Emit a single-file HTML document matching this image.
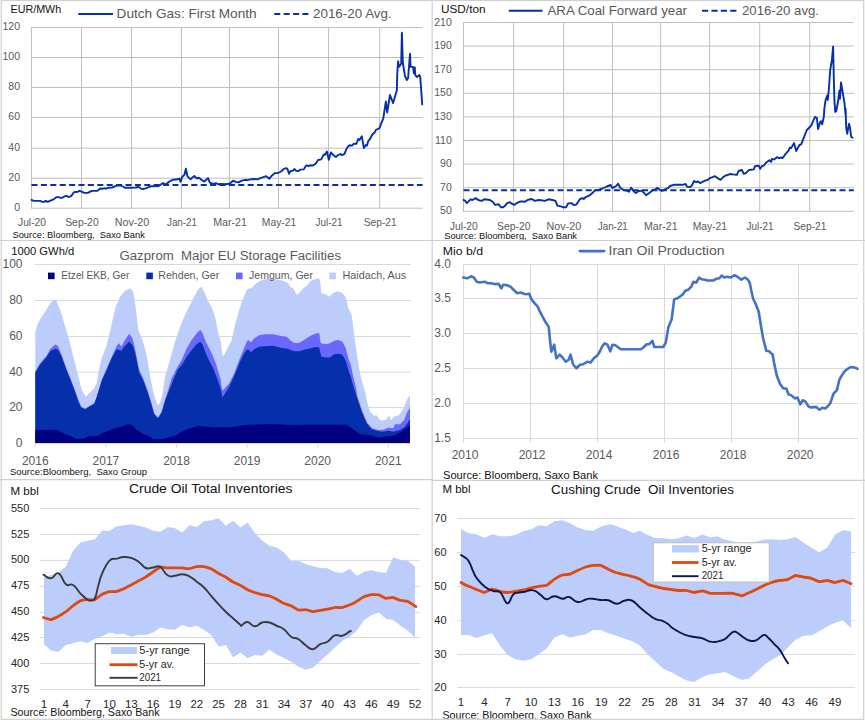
<!DOCTYPE html>
<html><head><meta charset="utf-8"><title>Charts</title>
<style>
html,body{margin:0;padding:0;background:#fff;}
body{width:865px;height:720px;position:relative;overflow:hidden;font-family:"Liberation Sans",sans-serif;}
</style></head><body>
<svg width="865" height="720" viewBox="0 0 865 720" style="position:absolute;left:0;top:0;font-family:'Liberation Sans',sans-serif">
<rect x="0" y="0" width="865" height="720" fill="#fff"/>
<defs><clipPath id="cA"><rect x="0" y="0" width="865" height="240"/></clipPath><clipPath id="cB"><rect x="0" y="0" width="865" height="480"/></clipPath><clipPath id="cC"><rect x="0" y="0" width="865" height="718.6"/></clipPath></defs>
<g stroke="#d0d0d0" stroke-width="1.2" fill="none">
<rect x="1.2" y="0.5" width="862.5" height="718.8"/>
<line x1="432.2" y1="0" x2="432.2" y2="720"/>
<line x1="0" y1="240.5" x2="865" y2="240.5"/>
<line x1="0" y1="479.6" x2="432" y2="479.6"/>
<line x1="432" y1="480.3" x2="865" y2="480.3"/>
</g>
<g stroke="#bfbfbf" stroke-width="1" fill="none">
<line x1="31.5" y1="27.5" x2="31.5" y2="208.2"/>
<line x1="81.5" y1="27.5" x2="81.5" y2="208.2"/>
<line x1="131.5" y1="27.5" x2="131.5" y2="208.2"/>
<line x1="181.5" y1="27.5" x2="181.5" y2="208.2"/>
<line x1="229.5" y1="27.5" x2="229.5" y2="208.2"/>
<line x1="278.5" y1="27.5" x2="278.5" y2="208.2"/>
<line x1="328.5" y1="27.5" x2="328.5" y2="208.2"/>
<line x1="379.7" y1="27.5" x2="379.7" y2="208.2"/>
<line x1="31" y1="27.5" x2="422.6" y2="27.5"/>
<line x1="31" y1="57.5" x2="422.6" y2="57.5"/>
<line x1="31" y1="87.5" x2="422.6" y2="87.5"/>
<line x1="31" y1="117.5" x2="422.6" y2="117.5"/>
<line x1="31" y1="148.2" x2="422.6" y2="148.2"/>
<line x1="31" y1="178.2" x2="422.6" y2="178.2"/>
<line x1="31" y1="208.2" x2="422.6" y2="208.2"/>
</g>
<line x1="31.5" y1="185" x2="422.6" y2="185" stroke="#062fab" stroke-width="2" stroke-dasharray="6 3.4"/>
<path d="M31.5,199.9 L33.6,200.9 L39.9,200.9 L42.4,201.9 L44.2,201.9 L45.7,200.9 L47.7,201.9 L50.5,200.6 L53.6,199.3 L56.7,197.1 L58.6,197.1 L60.7,197.9 L62.3,197.7 L64.8,196.2 L67.0,195.9 L68.6,197.1 L71.1,196.2 L73.9,192.2 L77.9,191.8 L79.4,190.8 L81.1,191.4 L84.2,192.9 L87.9,192.9 L91.7,190.9 L97.3,190.7 L100.4,188.5 L102.9,188.7 L104.8,188.2 L106.0,188.8 L107.9,187.7 L112.3,187.5 L115.4,186.2 L116.9,185.6 L120.4,185.3 L122.9,186.5 L124.8,187.7 L129.7,187.7 L136.2,187.5 L138.1,186.8 L141.2,188.7 L143.1,189.2 L146.2,188.1 L148.7,187.1 L151.8,186.2 L158.7,186.0 L161.2,184.3 L163.1,183.1 L165.0,184.7 L166.8,183.7 L169.3,181.5 L173.1,179.7 L178.1,179.2 L179.3,178.5 L180.6,181.8 L182.2,176.8 L184.3,175.0 L185.9,168.7 L187.4,176.2 L190.5,179.3 L191.8,178.1 L194.3,176.0 L196.8,178.5 L198.9,177.7 L201.8,180.0 L204.3,181.5 L208.0,178.1 L209.9,182.7 L211.8,183.5 L213.6,184.0 L215.9,183.1 L218.0,184.3 L221.1,184.0 L224.9,184.3 L229.4,183.8 L231.2,182.5 L233.1,180.6 L235.6,181.9 L238.8,182.2 L241.9,180.6 L245.0,179.8 L247.5,180.2 L250.0,179.4 L254.4,179.0 L257.5,179.4 L261.2,177.8 L266.2,176.2 L269.4,178.8 L271.2,176.2 L275.0,173.1 L277.5,173.1 L281.2,171.5 L283.8,168.8 L286.2,168.1 L287.5,169.0 L289.0,173.8 L290.6,171.0 L293.1,170.6 L294.4,169.0 L296.2,170.9 L298.8,171.0 L300.0,169.6 L303.8,169.4 L305.6,166.2 L306.9,165.2 L308.5,166.2 L310.0,165.2 L312.5,165.6 L315.6,163.8 L318.1,160.0 L321.2,159.4 L323.8,154.4 L325.0,154.8 L326.9,151.5 L328.8,159.8 L330.8,152.5 L333.2,155.0 L335.8,156.9 L338.2,155.0 L340.5,154.0 L342.0,155.2 L344.5,153.8 L346.8,148.1 L349.5,145.2 L352.0,145.6 L353.9,143.8 L356.4,143.8 L358.2,139.0 L359.5,140.0 L361.8,136.2 L363.9,148.1 L365.8,145.0 L367.0,145.6 L368.2,141.2 L370.1,138.8 L372.0,135.0 L375.1,131.9 L375.8,130.0 L379.5,128.1 L380.8,124.4 L383.2,118.8 L383.8,115.0 L385.9,101.5 L387.2,112.5 L390.0,95.0 L393.1,103.1 L396.9,90.0 L397.2,75.0 L398.1,61.2 L399.0,66.9 L401.2,63.8 L401.9,32.8 L402.8,62.5 L405.0,76.2 L406.9,80.0 L408.1,78.1 L410.0,53.8 L410.6,66.9 L413.1,66.9 L413.8,73.1 L414.8,67.5 L415.2,75.0 L416.9,76.9 L419.4,75.0 L420.2,76.9 L421.2,90.0 L422.2,104.4" fill="none" stroke="#062fab" stroke-width="1.9" stroke-linejoin="round" stroke-linecap="round"/>
<text x="20" y="30.0" font-size="10.5" fill="#595959" text-anchor="end">120</text>
<text x="20" y="60.0" font-size="10.5" fill="#595959" text-anchor="end">100</text>
<text x="20" y="90.0" font-size="10.5" fill="#595959" text-anchor="end">80</text>
<text x="20" y="120.0" font-size="10.5" fill="#595959" text-anchor="end">60</text>
<text x="20" y="150.7" font-size="10.5" fill="#595959" text-anchor="end">40</text>
<text x="20" y="180.7" font-size="10.5" fill="#595959" text-anchor="end">20</text>
<text x="20" y="210.7" font-size="10.5" fill="#595959" text-anchor="end">0</text>
<text x="18.0" y="226.3" font-size="11" fill="#595959" textLength="28" lengthAdjust="spacingAndGlyphs">Jul-20</text>
<text x="65.2" y="226.3" font-size="11" fill="#595959" textLength="33.5" lengthAdjust="spacingAndGlyphs">Sep-20</text>
<text x="114.7" y="226.3" font-size="11" fill="#595959" textLength="34.6" lengthAdjust="spacingAndGlyphs">Nov-20</text>
<text x="167.0" y="226.3" font-size="11" fill="#595959" textLength="30" lengthAdjust="spacingAndGlyphs">Jan-21</text>
<text x="213.2" y="226.3" font-size="11" fill="#595959" textLength="33.7" lengthAdjust="spacingAndGlyphs">Mar-21</text>
<text x="261.8" y="226.3" font-size="11" fill="#595959" textLength="34.4" lengthAdjust="spacingAndGlyphs">May-21</text>
<text x="315.5" y="226.3" font-size="11" fill="#595959" textLength="27" lengthAdjust="spacingAndGlyphs">Jul-21</text>
<text x="363.7" y="226.3" font-size="11" fill="#595959" textLength="33" lengthAdjust="spacingAndGlyphs">Sep-21</text>
<text x="10.6" y="12.8" font-size="10.5" fill="#111" textLength="50.6" lengthAdjust="spacingAndGlyphs">EUR/MWh</text>
<text x="12.5" y="237.5" font-size="9.5" fill="#111" textLength="132.3" lengthAdjust="spacingAndGlyphs">Source: Bloomberg,&#160; Saxo Bank</text>
<line x1="78.3" y1="13.9" x2="113" y2="13.9" stroke="#062fab" stroke-width="2"/>
<text x="116.6" y="17.5" font-size="13" fill="#595959" textLength="140" lengthAdjust="spacingAndGlyphs">Dutch Gas: First Month</text>
<line x1="274.3" y1="13.9" x2="308.4" y2="13.9" stroke="#062fab" stroke-width="2" stroke-dasharray="6 3.4"/>
<text x="313" y="17.5" font-size="13" fill="#595959" textLength="78.7" lengthAdjust="spacingAndGlyphs">2016-20 Avg.</text>
<g stroke="#bfbfbf" stroke-width="1" fill="none">
<line x1="463.5" y1="22.5" x2="463.5" y2="211.3"/>
<line x1="513.6" y1="22.5" x2="513.6" y2="211.3"/>
<line x1="563.6" y1="22.5" x2="563.6" y2="211.3"/>
<line x1="612.5" y1="22.5" x2="612.5" y2="211.3"/>
<line x1="660.6" y1="22.5" x2="660.6" y2="211.3"/>
<line x1="709.6" y1="22.5" x2="709.6" y2="211.3"/>
<line x1="759.7" y1="22.5" x2="759.7" y2="211.3"/>
<line x1="809.7" y1="22.5" x2="809.7" y2="211.3"/>
<line x1="463" y1="22.5" x2="853.8" y2="22.5"/>
<line x1="463" y1="46.1" x2="853.8" y2="46.1"/>
<line x1="463" y1="69.7" x2="853.8" y2="69.7"/>
<line x1="463" y1="93.3" x2="853.8" y2="93.3"/>
<line x1="463" y1="116.9" x2="853.8" y2="116.9"/>
<line x1="463" y1="140.5" x2="853.8" y2="140.5"/>
<line x1="463" y1="164.1" x2="853.8" y2="164.1"/>
<line x1="463" y1="187.7" x2="853.8" y2="187.7"/>
<line x1="463" y1="211.3" x2="853.8" y2="211.3"/>
</g>
<line x1="463.5" y1="190.3" x2="853.8" y2="190.3" stroke="#062fab" stroke-width="2" stroke-dasharray="6 3.4"/>
<path d="M463.5,200.0 L465.0,200.6 L466.9,203.1 L470.6,199.3 L472.5,200.0 L475.6,198.1 L478.7,200.2 L481.8,200.9 L484.3,199.3 L490.0,200.0 L492.7,201.8 L495.0,204.9 L498.7,204.3 L500.9,207.2 L503.1,207.2 L504.9,205.9 L507.2,203.1 L509.9,202.2 L511.8,203.7 L514.3,204.9 L516.8,203.1 L519.3,201.8 L522.4,201.4 L524.9,201.8 L528.0,199.7 L531.8,199.0 L534.9,200.9 L538.7,200.0 L541.1,200.2 L544.9,200.9 L548.4,199.3 L552.4,200.0 L555.5,200.9 L557.4,205.6 L559.9,206.2 L563.1,207.2 L566.2,207.2 L568.1,203.4 L571.2,203.1 L574.4,205.2 L576.2,204.7 L580.0,199.0 L582.5,198.1 L583.7,199.0 L586.2,196.8 L589.3,195.6 L592.5,193.1 L595.0,190.2 L598.7,190.0 L602.4,188.5 L606.8,186.5 L610.6,185.0 L612.4,188.1 L616.2,186.0 L618.1,183.7 L620.5,188.1 L623.7,190.0 L626.8,190.6 L628.9,191.8 L631.2,187.7 L633.7,191.2 L635.9,193.1 L638.0,191.2 L641.8,190.6 L646.1,195.2 L649.9,192.5 L653.0,190.0 L655.5,189.3 L657.4,187.7 L659.9,190.0 L661.9,191.0 L665.0,189.4 L668.1,188.1 L670.0,186.0 L673.8,184.8 L682.5,184.8 L685.6,184.0 L687.2,186.9 L690.6,186.9 L692.5,184.4 L694.0,181.0 L696.2,182.2 L698.1,181.5 L700.0,183.1 L702.5,181.9 L705.0,180.6 L707.5,180.0 L710.0,178.1 L712.5,177.2 L715.0,176.2 L717.5,178.1 L720.6,179.8 L723.1,177.2 L726.0,175.2 L727.5,175.2 L730.0,174.0 L733.1,174.4 L736.9,174.8 L738.5,171.0 L741.9,170.0 L743.8,173.8 L746.2,172.8 L748.8,170.2 L750.6,169.8 L753.8,169.4 L755.0,166.2 L758.8,165.6 L760.2,168.8 L761.9,166.2 L763.8,165.6 L766.2,162.5 L769.4,160.2 L771.0,161.9 L771.9,159.0 L774.4,159.4 L776.9,157.2 L778.8,158.1 L781.2,157.5 L782.8,158.1 L785.6,153.8 L788.1,151.2 L790.0,147.5 L791.2,148.1 L794.0,143.1 L796.2,151.0 L799.4,145.0 L801.2,144.4 L804.4,136.2 L806.9,130.0 L809.4,127.5 L811.2,125.6 L813.1,121.2 L815.0,116.9 L816.9,118.1 L818.1,129.0 L820.0,122.5 L821.2,121.2 L822.2,124.4 L823.8,116.9 L824.4,108.1 L825.6,100.0 L827.2,95.6 L827.8,100.0 L828.8,90.0 L830.2,70.0 L831.9,60.0 L833.1,46.5 L833.8,77.5 L834.4,100.0 L835.2,111.9 L836.2,111.2 L838.1,101.2 L839.4,90.6 L840.0,98.8 L841.0,82.5 L842.5,91.2 L844.4,102.5 L845.6,115.0 L845.6,108.8 L846.2,127.5 L847.2,133.8 L849.0,123.8 L850.0,127.5 L851.2,136.9 L852.5,137.8" fill="none" stroke="#062fab" stroke-width="1.9" stroke-linejoin="round" stroke-linecap="round"/>
<text x="451.8" y="25.5" font-size="10.5" fill="#595959" text-anchor="end">210</text>
<text x="451.8" y="49.1" font-size="10.5" fill="#595959" text-anchor="end">190</text>
<text x="451.8" y="72.7" font-size="10.5" fill="#595959" text-anchor="end">170</text>
<text x="451.8" y="96.30000000000001" font-size="10.5" fill="#595959" text-anchor="end">150</text>
<text x="451.8" y="119.9" font-size="10.5" fill="#595959" text-anchor="end">130</text>
<text x="451.8" y="143.5" font-size="10.5" fill="#595959" text-anchor="end">110</text>
<text x="451.8" y="167.10000000000002" font-size="10.5" fill="#595959" text-anchor="end">90</text>
<text x="451.8" y="190.70000000000002" font-size="10.5" fill="#595959" text-anchor="end">70</text>
<text x="451.8" y="214.3" font-size="10.5" fill="#595959" text-anchor="end">50</text>
<text x="449.8" y="229.6" font-size="11" fill="#595959" textLength="28" lengthAdjust="spacingAndGlyphs">Jul-20</text>
<text x="497.1" y="229.6" font-size="11" fill="#595959" textLength="33.5" lengthAdjust="spacingAndGlyphs">Sep-20</text>
<text x="546.6" y="229.6" font-size="11" fill="#595959" textLength="34.6" lengthAdjust="spacingAndGlyphs">Nov-20</text>
<text x="597.8" y="229.6" font-size="11" fill="#595959" textLength="30" lengthAdjust="spacingAndGlyphs">Jan-21</text>
<text x="644.0" y="229.6" font-size="11" fill="#595959" textLength="33.7" lengthAdjust="spacingAndGlyphs">Mar-21</text>
<text x="692.7" y="229.6" font-size="11" fill="#595959" textLength="34.4" lengthAdjust="spacingAndGlyphs">May-21</text>
<text x="746.5" y="229.6" font-size="11" fill="#595959" textLength="27" lengthAdjust="spacingAndGlyphs">Jul-21</text>
<text x="793.5" y="229.6" font-size="11" fill="#595959" textLength="33" lengthAdjust="spacingAndGlyphs">Sep-21</text>
<text x="441" y="13" font-size="11" fill="#111" textLength="44.5" lengthAdjust="spacingAndGlyphs">USD/ton</text>
<text x="444.2" y="238.8" font-size="9.5" fill="#111" textLength="132.8" lengthAdjust="spacingAndGlyphs" clip-path="url(#cA)">Source: Bloomberg,&#160; Saxo Bank</text>
<line x1="508.8" y1="10.8" x2="542.5" y2="10.8" stroke="#062fab" stroke-width="2"/>
<text x="547.5" y="15.2" font-size="13" fill="#595959" textLength="139.5" lengthAdjust="spacingAndGlyphs">ARA Coal Forward year</text>
<line x1="702" y1="10.8" x2="736.5" y2="10.8" stroke="#062fab" stroke-width="2" stroke-dasharray="6.2 3.2"/>
<text x="742" y="15.2" font-size="13" fill="#595959" textLength="77" lengthAdjust="spacingAndGlyphs">2016-20 avg.</text>
<g stroke="#d9d9d9" stroke-width="1" fill="none">
<line x1="35" y1="264.5" x2="410.8" y2="264.5"/>
<line x1="35" y1="300.5" x2="410.8" y2="300.5"/>
<line x1="35" y1="336.5" x2="410.8" y2="336.5"/>
<line x1="35" y1="372.2" x2="410.8" y2="372.2"/>
<line x1="35" y1="407.5" x2="410.8" y2="407.5"/>
</g>
<path d="M35.3,331.7 L37.5,324.2 L41.7,316.7 L45.8,310.8 L50.8,302.5 L54.2,299.7 L56.7,301.3 L60.8,311.7 L65.0,325.8 L69.2,340.0 L73.3,356.7 L77.5,373.3 L81.7,390.0 L85.8,396.7 L90.0,392.5 L94.2,388.3 L96.7,383.3 L99.2,368.3 L101.7,358.3 L106.7,345.0 L110.0,331.7 L112.5,320.0 L115.8,306.7 L120.0,296.7 L125.0,290.8 L130.0,288.3 L133.3,291.7 L135.8,308.3 L138.3,330.0 L141.7,338.3 L145.0,348.3 L147.5,360.0 L150.0,375.0 L152.5,388.3 L155.0,398.3 L157.5,405.0 L160.0,403.3 L162.5,394.2 L165.0,376.7 L170.0,360.0 L175.0,341.7 L180.0,326.7 L185.0,315.0 L190.0,305.0 L195.0,295.0 L198.3,289.2 L201.3,286.7 L204.2,291.7 L207.5,300.0 L211.7,307.5 L215.0,316.7 L218.3,333.3 L220.8,341.7 L222.5,355.0 L223.7,355.8 L227.5,348.3 L231.7,340.0 L235.0,325.0 L239.2,310.0 L242.5,300.0 L246.7,290.0 L249.2,288.3 L251.7,288.3 L255.0,284.2 L260.0,280.8 L265.0,279.2 L271.7,278.7 L278.3,279.7 L283.3,280.8 L288.3,283.3 L290.0,286.7 L293.3,288.3 L296.7,294.7 L299.2,293.3 L303.3,288.3 L307.5,285.0 L310.8,280.8 L315.0,279.2 L318.3,278.3 L320.0,280.0 L321.3,293.3 L325.8,294.2 L329.2,296.7 L332.5,293.3 L337.5,291.3 L341.7,292.5 L345.8,297.5 L348.3,308.3 L351.7,315.0 L354.2,335.0 L356.7,353.3 L360.0,373.3 L361.7,380.0 L365.0,391.7 L367.5,403.3 L370.0,411.7 L374.2,415.8 L376.7,415.3 L379.2,419.2 L381.7,420.8 L385.8,419.7 L389.2,415.8 L390.8,420.0 L393.3,417.5 L395.8,415.8 L398.3,415.8 L401.7,411.7 L405.0,405.0 L406.7,400.0 L410.0,395.0 L410.0,443.0 L35.3,443.0Z" fill="#bccdfb"/>
<path d="M35.3,371.7 L40.0,363.3 L45.8,356.7 L50.8,348.3 L55.8,344.2 L58.3,346.7 L61.7,355.0 L65.8,366.7 L70.8,379.2 L75.0,390.0 L78.3,400.0 L81.7,407.5 L81.7,406.7 L85.0,408.7 L88.3,406.7 L94.2,403.3 L96.7,396.7 L101.7,380.0 L106.7,368.3 L111.7,356.7 L116.7,345.8 L119.2,343.3 L121.3,346.7 L125.0,340.0 L129.2,333.7 L132.5,338.3 L135.0,348.3 L139.2,370.0 L143.3,378.3 L147.5,390.0 L150.8,400.8 L154.2,413.3 L158.0,417.5 L161.7,411.7 L165.0,400.0 L171.7,378.3 L177.5,366.7 L181.7,360.0 L186.7,348.3 L191.7,340.0 L196.7,333.3 L200.3,329.7 L202.5,333.3 L205.8,341.7 L209.2,348.3 L212.5,355.0 L215.8,363.3 L218.3,371.7 L220.8,380.0 L222.0,389.2 L223.0,390.3 L229.2,383.3 L234.2,373.3 L239.2,360.0 L243.3,350.0 L246.7,341.7 L248.3,340.0 L250.8,342.5 L254.2,338.3 L259.2,335.3 L265.0,334.2 L273.3,334.2 L280.0,335.8 L286.7,336.7 L290.0,340.0 L293.3,342.5 L296.7,343.3 L300.0,342.5 L305.0,339.2 L310.8,335.8 L315.0,333.7 L319.2,333.0 L320.8,343.3 L325.8,344.2 L330.0,343.3 L334.2,340.8 L338.3,340.0 L342.5,341.7 L345.8,348.3 L348.3,358.3 L350.8,365.0 L353.3,376.7 L355.8,386.7 L357.5,396.7 L362.5,411.7 L367.5,423.3 L372.5,428.3 L378.3,430.0 L383.3,429.7 L388.3,427.5 L393.3,428.3 L395.0,424.2 L400.0,424.2 L404.2,420.0 L406.7,413.3 L410.0,407.5 L410.0,443.0 L35.3,443.0Z" fill="#6868fe"/>
<path d="M35.3,372.5 L40.0,364.7 L45.8,358.0 L50.8,350.8 L55.8,348.7 L58.3,350.3 L61.7,356.7 L65.8,368.3 L70.8,380.8 L75.0,391.7 L78.3,401.3 L81.7,408.7 L81.7,407.5 L85.0,409.3 L88.3,407.2 L94.2,403.8 L96.7,397.3 L101.7,380.8 L106.7,370.0 L111.7,358.3 L116.7,349.2 L121.3,350.8 L125.0,345.8 L129.2,341.7 L132.5,345.0 L135.0,352.5 L139.2,372.5 L143.3,380.8 L147.5,391.7 L150.8,402.5 L154.2,414.2 L158.0,418.3 L161.7,412.5 L165.0,400.8 L173.3,380.0 L177.5,370.0 L181.7,365.0 L186.7,356.7 L191.7,350.0 L196.7,344.2 L200.3,341.7 L202.5,344.2 L205.8,353.3 L209.2,360.8 L212.5,366.7 L215.8,375.0 L218.3,381.7 L220.8,389.2 L222.5,397.5 L228.3,388.3 L230.0,385.0 L235.0,374.2 L240.0,361.7 L244.2,353.3 L246.7,349.7 L249.2,349.7 L250.8,352.5 L254.2,349.2 L259.2,346.7 L265.0,346.3 L273.3,345.8 L281.7,348.0 L288.3,348.7 L290.0,350.0 L295.0,351.3 L300.0,351.3 L305.8,349.2 L310.8,348.3 L315.0,347.0 L319.2,347.5 L321.3,356.7 L325.8,357.5 L330.0,357.5 L334.2,354.2 L339.2,353.7 L342.5,355.0 L345.8,360.8 L348.3,370.0 L350.8,376.7 L353.0,385.0 L356.7,396.7 L361.7,411.7 L366.7,423.3 L371.7,429.2 L376.7,430.8 L381.7,431.7 L388.3,430.8 L393.3,431.7 L400.0,430.0 L405.0,426.7 L408.3,421.7 L410.0,419.2 L410.0,443.0 L35.3,443.0Z" fill="#062fab"/>
<path d="M35.3,430.0 L56.7,429.7 L63.3,433.3 L70.0,435.8 L75.8,438.7 L83.3,438.7 L88.3,436.3 L98.3,435.8 L101.7,433.3 L108.3,430.8 L115.0,428.0 L121.7,426.7 L127.5,424.2 L131.7,424.7 L136.7,430.0 L141.7,433.3 L148.3,435.8 L153.3,439.2 L163.3,439.2 L165.0,438.3 L175.0,435.8 L185.0,430.0 L198.3,425.8 L215.0,427.5 L231.7,427.0 L245.0,425.0 L265.0,424.2 L278.3,424.2 L291.7,425.0 L300.0,424.7 L346.7,424.7 L353.3,429.2 L360.0,434.2 L370.0,435.0 L375.0,436.7 L380.8,437.5 L386.7,436.3 L393.3,435.8 L400.0,432.5 L406.7,428.3 L410.0,425.0 L410.0,443.0 L35.3,443.0Z" fill="#000080"/>
<g stroke="#d9d9d9" stroke-width="1" fill="none"><line x1="35" y1="443.5" x2="410.8" y2="443.5"/>
<line x1="35.3" y1="443.5" x2="35.3" y2="447.5"/>
<line x1="105.9" y1="443.5" x2="105.9" y2="447.5"/>
<line x1="176.5" y1="443.5" x2="176.5" y2="447.5"/>
<line x1="247.1" y1="443.5" x2="247.1" y2="447.5"/>
<line x1="317.7" y1="443.5" x2="317.7" y2="447.5"/>
<line x1="388.3" y1="443.5" x2="388.3" y2="447.5"/>
</g>
<text x="22.5" y="267.9" font-size="12" fill="#595959" text-anchor="end">100</text>
<text x="22.5" y="303.9" font-size="12" fill="#595959" text-anchor="end">80</text>
<text x="22.5" y="339.9" font-size="12" fill="#595959" text-anchor="end">60</text>
<text x="22.5" y="375.59999999999997" font-size="12" fill="#595959" text-anchor="end">40</text>
<text x="22.5" y="410.9" font-size="12" fill="#595959" text-anchor="end">20</text>
<text x="22.5" y="446.9" font-size="12" fill="#595959" text-anchor="end">0</text>
<text x="35.3" y="464.9" font-size="12" fill="#595959" text-anchor="middle">2016</text>
<text x="105.89999999999999" y="464.9" font-size="12" fill="#595959" text-anchor="middle">2017</text>
<text x="176.5" y="464.9" font-size="12" fill="#595959" text-anchor="middle">2018</text>
<text x="247.09999999999997" y="464.9" font-size="12" fill="#595959" text-anchor="middle">2019</text>
<text x="317.7" y="464.9" font-size="12" fill="#595959" text-anchor="middle">2020</text>
<text x="388.3" y="464.9" font-size="12" fill="#595959" text-anchor="middle">2021</text>
<text x="11.3" y="254.5" font-size="10" fill="#111" textLength="63" lengthAdjust="spacingAndGlyphs">1000 GWh/d</text>
<text x="10" y="474.8" font-size="9.5" fill="#111" textLength="137" lengthAdjust="spacingAndGlyphs">Source:Bloomberg,&#160; Saxo Group</text>
<text x="119.5" y="259.6" font-size="12.5" fill="#595959" textLength="221.5" lengthAdjust="spacingAndGlyphs">Gazprom&#160; Major EU Storage Facilities</text>
<rect x="48" y="272.6" width="6.6" height="6.6" fill="#000080"/>
<text x="61.3" y="279.2" font-size="10.5" fill="#595959" textLength="68" lengthAdjust="spacingAndGlyphs">Etzel EKB, Ger</text>
<rect x="146.3" y="272.6" width="6.6" height="6.6" fill="#062fab"/>
<text x="158.2" y="279.2" font-size="10.5" fill="#595959" textLength="61" lengthAdjust="spacingAndGlyphs">Rehden, Ger</text>
<rect x="236" y="272.6" width="6.6" height="6.6" fill="#6868fe"/>
<text x="249" y="279.2" font-size="10.5" fill="#595959" textLength="64" lengthAdjust="spacingAndGlyphs">Jemgum, Ger</text>
<rect x="329.3" y="272.6" width="6.6" height="6.6" fill="#bccdfb"/>
<text x="342.5" y="279.2" font-size="10.5" fill="#595959" textLength="63.7" lengthAdjust="spacingAndGlyphs">Haidach, Aus</text>
<g stroke="#d9d9d9" stroke-width="1" fill="none">
<line x1="463.5" y1="264.5" x2="463.5" y2="442.7"/>
<line x1="530.5" y1="264.5" x2="530.5" y2="442.7"/>
<line x1="597.5" y1="264.5" x2="597.5" y2="442.7"/>
<line x1="664.5" y1="264.5" x2="664.5" y2="442.7"/>
<line x1="731.5" y1="264.5" x2="731.5" y2="442.7"/>
<line x1="798.5" y1="264.5" x2="798.5" y2="442.7"/>
<line x1="463" y1="264.5" x2="858" y2="264.5"/>
<line x1="463" y1="298.5" x2="858" y2="298.5"/>
<line x1="463" y1="333.5" x2="858" y2="333.5"/>
<line x1="463" y1="368.5" x2="858" y2="368.5"/>
<line x1="463" y1="403.5" x2="858" y2="403.5"/>
<line x1="463" y1="438.5" x2="858" y2="438.5"/>
</g>
<path d="M463.3,277.5 L467.2,278.3 L471.0,276.3 L473.8,277.5 L476.7,281.7 L479.7,282.5 L484.7,281.7 L488.0,283.3 L491.3,283.3 L495.5,284.2 L498.5,283.7 L501.3,288.3 L503.3,284.7 L507.2,285.3 L510.5,286.7 L513.8,290.0 L517.2,293.3 L520.5,292.5 L523.8,293.7 L526.3,294.2 L529.3,293.7 L531.3,299.2 L534.7,303.3 L537.7,306.7 L540.0,311.7 L542.5,316.7 L545.8,322.5 L548.7,326.7 L550.0,340.0 L551.3,351.7 L554.2,344.7 L556.3,358.3 L559.7,354.7 L562.5,357.5 L565.8,361.7 L568.7,359.7 L570.5,354.7 L573.0,364.2 L576.3,368.3 L580.0,364.7 L583.3,364.2 L587.5,361.7 L590.8,362.5 L593.3,358.7 L597.5,355.3 L599.7,351.7 L602.5,345.8 L604.7,343.3 L607.5,344.7 L610.3,351.3 L612.5,344.7 L615.3,345.3 L620.8,349.2 L640.8,349.2 L643.3,347.5 L646.7,344.2 L649.2,344.2 L652.5,340.8 L654.2,347.0 L663.3,347.0 L665.8,342.5 L668.3,327.5 L671.7,319.2 L674.2,299.2 L677.5,298.3 L682.5,294.7 L685.3,290.8 L688.3,289.7 L691.3,286.7 L693.3,281.7 L696.3,282.5 L699.2,277.5 L701.7,279.2 L705.0,279.7 L707.5,280.5 L713.3,280.5 L716.7,278.7 L719.2,278.3 L721.7,275.5 L724.2,277.5 L727.0,276.7 L730.8,277.5 L734.2,275.3 L736.7,276.3 L741.3,279.7 L745.0,277.5 L747.5,279.2 L749.7,282.5 L751.3,290.8 L753.0,298.3 L755.8,304.2 L758.7,311.7 L760.8,325.0 L763.3,339.2 L766.3,350.8 L769.2,351.3 L772.5,354.7 L772.6,354.3 L774.4,364.6 L777.1,376.6 L780.1,384.1 L783.1,388.3 L786.4,388.6 L788.4,394.3 L791.4,395.4 L794.8,398.4 L797.4,397.6 L800.4,404.4 L802.6,400.3 L805.3,401.4 L808.6,406.6 L810.9,407.4 L816.2,406.9 L819.5,409.7 L822.2,407.8 L825.2,408.4 L827.9,406.3 L830.4,402.9 L833.4,393.9 L836.9,390.1 L839.4,379.6 L842.0,375.1 L844.7,371.3 L847.7,368.8 L850.7,367.0 L853.7,367.3 L857.5,368.8" fill="none" stroke="#4472c4" stroke-width="2.6" stroke-linejoin="round" stroke-linecap="round"/>
<text x="434.3" y="267.8" font-size="12" fill="#595959">4.0</text>
<text x="434.3" y="301.8" font-size="12" fill="#595959">3.5</text>
<text x="434.3" y="336.8" font-size="12" fill="#595959">3.0</text>
<text x="434.3" y="371.8" font-size="12" fill="#595959">2.5</text>
<text x="434.3" y="406.8" font-size="12" fill="#595959">2.0</text>
<text x="434.3" y="441.8" font-size="12" fill="#595959">1.5</text>
<text x="465.0" y="459.4" font-size="12" fill="#595959" text-anchor="middle">2010</text>
<text x="532.03" y="459.4" font-size="12" fill="#595959" text-anchor="middle">2012</text>
<text x="599.06" y="459.4" font-size="12" fill="#595959" text-anchor="middle">2014</text>
<text x="666.09" y="459.4" font-size="12" fill="#595959" text-anchor="middle">2016</text>
<text x="733.12" y="459.4" font-size="12" fill="#595959" text-anchor="middle">2018</text>
<text x="800.15" y="459.4" font-size="12" fill="#595959" text-anchor="middle">2020</text>
<text x="442.7" y="254.8" font-size="11.5" fill="#111" textLength="40.3" lengthAdjust="spacingAndGlyphs">Mio b/d</text>
<text x="443" y="479" font-size="11.5" fill="#111" textLength="155" lengthAdjust="spacingAndGlyphs" clip-path="url(#cB)">Source: Bloomberg, Saxo Bank</text>
<line x1="579.8" y1="251.1" x2="604.2" y2="251.1" stroke="#4472c4" stroke-width="2.6" stroke-linecap="round"/>
<text x="608.5" y="255" font-size="12.5" fill="#595959" textLength="116" lengthAdjust="spacingAndGlyphs">Iran Oil Production</text>
<g stroke="#d9d9d9" stroke-width="1" fill="none">
<line x1="40" y1="508.5" x2="420" y2="508.5"/>
<line x1="40" y1="534.5" x2="420" y2="534.5"/>
<line x1="40" y1="560.4" x2="420" y2="560.4"/>
<line x1="40" y1="586.3" x2="420" y2="586.3"/>
<line x1="40" y1="612.3" x2="420" y2="612.3"/>
<line x1="40" y1="637.5" x2="420" y2="637.5"/>
<line x1="40" y1="663.5" x2="420" y2="663.5"/>
<line x1="40" y1="689.5" x2="420" y2="689.5"/>
</g>
<path d="M44.0,577.5 L51.3,575.0 L58.5,572.5 L65.8,566.7 L73.1,550.8 L80.4,542.5 L87.7,540.8 L94.9,539.2 L102.2,530.8 L109.5,530.8 L116.8,526.3 L124.0,525.3 L131.3,524.2 L138.6,525.8 L145.9,527.5 L153.1,530.8 L160.4,531.7 L167.7,527.0 L175.0,528.3 L182.2,532.5 L189.5,525.3 L196.8,527.0 L204.1,521.2 L211.3,520.3 L218.6,518.3 L225.9,525.8 L233.2,520.8 L240.4,527.5 L247.7,522.5 L255.0,533.3 L262.2,540.8 L269.5,545.8 L276.8,547.5 L284.1,552.5 L291.4,561.3 L298.6,560.8 L305.9,564.2 L313.2,566.3 L320.4,568.0 L327.7,568.3 L335.0,572.0 L342.3,573.0 L349.6,568.7 L356.8,575.8 L364.1,571.7 L371.4,570.3 L378.7,572.0 L385.9,573.0 L393.2,557.2 L400.5,560.0 L407.8,560.8 L415.0,566.7 L415.0,637.5 L407.8,630.8 L400.5,625.8 L393.2,620.0 L385.9,618.7 L378.7,612.5 L371.4,615.3 L364.1,620.0 L356.8,630.8 L349.6,636.7 L342.3,640.8 L335.0,647.5 L327.7,654.2 L320.4,660.8 L313.2,667.5 L305.9,669.7 L298.6,666.7 L291.4,661.7 L284.1,658.0 L276.8,654.7 L269.5,649.7 L262.2,655.8 L255.0,655.0 L247.7,658.3 L240.4,652.5 L233.2,657.5 L225.9,645.0 L218.6,646.7 L211.3,635.0 L204.1,630.0 L196.8,625.8 L189.5,627.5 L182.2,624.7 L175.0,629.7 L167.7,629.2 L160.4,627.5 L153.1,632.5 L145.9,635.0 L138.6,634.7 L131.3,637.0 L124.0,633.7 L116.8,634.2 L109.5,632.5 L102.2,636.3 L94.9,638.7 L87.7,643.0 L80.4,641.3 L73.1,643.3 L65.8,645.0 L58.5,651.7 L51.3,650.8 L44.0,644.2Z" fill="#bccdfb"/>
<path d="M43.5,617.5 C43.8,617.6 50.4,619.7 51.0,619.7 C51.6,619.6 57.9,616.7 58.5,616.3 C59.1,616.0 65.4,612.1 66.0,611.7 C66.6,611.2 72.4,606.3 73.0,605.8 C73.6,605.4 79.7,601.1 80.3,600.8 C80.9,600.6 87.1,599.7 87.7,599.7 C88.2,599.6 94.3,599.9 94.8,599.7 C95.4,599.4 101.6,594.5 102.2,594.2 C102.7,593.8 108.8,591.8 109.3,591.7 C109.9,591.6 116.1,591.5 116.7,591.3 C117.3,591.2 123.4,588.9 124.0,588.7 C124.6,588.4 130.6,585.3 131.2,585.0 C131.7,584.7 137.9,581.2 138.5,580.8 C139.1,580.5 145.3,577.4 145.8,577.0 C146.4,576.6 152.4,572.4 153.0,572.0 C153.6,571.6 159.8,567.2 160.3,567.0 C160.9,566.8 166.9,567.8 167.5,567.8 C168.1,567.9 174.2,567.8 174.8,567.8 C175.4,567.8 181.6,567.8 182.2,567.8 C182.7,567.9 188.8,568.7 189.3,568.7 C189.9,568.6 196.1,566.7 196.7,566.7 C197.3,566.6 203.4,566.6 204.0,566.7 C204.6,566.7 210.6,568.4 211.2,568.7 C211.7,568.9 217.9,573.0 218.5,573.3 C219.1,573.7 225.1,576.7 225.7,577.0 C226.2,577.3 232.4,581.7 233.0,582.0 C233.6,582.3 239.8,585.0 240.3,585.3 C240.9,585.6 246.9,589.4 247.5,589.7 C248.1,590.0 254.2,592.3 254.8,592.5 C255.4,592.7 261.6,594.5 262.2,594.7 C262.7,594.8 268.8,595.7 269.3,595.8 C269.9,596.0 276.1,598.9 276.7,599.2 C277.2,599.5 283.3,603.1 283.8,603.3 C284.4,603.6 290.6,605.6 291.2,605.8 C291.8,606.1 297.9,609.8 298.5,610.0 C299.1,610.2 305.1,609.6 305.7,609.7 C306.2,609.7 312.4,611.6 313.0,611.7 C313.6,611.7 319.6,610.4 320.2,610.3 C320.7,610.2 326.9,609.3 327.5,609.2 C328.1,609.1 334.3,607.6 334.8,607.5 C335.4,607.4 341.4,607.6 342.0,607.5 C342.6,607.4 348.7,605.2 349.3,605.0 C349.9,604.8 356.1,601.7 356.7,601.3 C357.2,601.0 363.3,596.9 363.8,596.7 C364.4,596.4 370.6,594.7 371.2,594.7 C371.7,594.6 377.8,594.5 378.3,594.7 C378.9,594.8 385.1,598.2 385.7,598.3 C386.3,598.4 392.4,597.4 393.0,597.5 C393.6,597.6 399.6,600.2 400.2,600.3 C400.7,600.5 406.9,601.1 407.5,601.3 C408.1,601.6 415.5,606.5 415.8,606.7" fill="none" stroke="#e0480e" stroke-width="2.8" stroke-linejoin="round" stroke-linecap="round"/>
<path d="M43.5,574.7 C45.5,575.6 47.0,578.7 51.0,578.3 C55.0,578.0 54.5,571.8 58.5,573.3 C62.5,574.9 62.1,581.1 66.0,584.2 C69.9,587.3 69.2,582.6 73.0,585.0 C76.8,587.4 76.4,589.4 80.3,593.3 C84.2,597.2 84.6,597.8 87.7,599.7 C90.7,601.5 89.8,600.9 91.8,600.3 C93.8,599.8 93.4,601.6 95.2,597.5 C96.9,593.4 96.6,591.4 98.5,585.0 C100.4,578.6 99.3,579.8 102.2,573.3 C105.1,566.9 105.5,564.7 109.3,560.8 C113.2,556.9 112.8,559.7 116.7,558.7 C120.6,557.6 120.1,557.2 124.0,557.0 C127.9,556.8 127.3,556.8 131.2,558.0 C135.0,559.2 134.6,559.0 138.5,561.7 C142.4,564.3 142.0,566.4 145.8,568.0 C149.7,569.6 149.1,567.8 153.0,567.5 C156.9,567.2 156.5,564.9 160.3,567.0 C164.2,569.1 163.6,573.0 167.5,575.3 C171.4,577.7 170.9,576.1 174.8,575.8 C178.7,575.5 178.3,574.0 182.2,574.2 C186.0,574.3 185.5,574.3 189.3,576.3 C193.2,578.3 192.8,578.7 196.7,581.7 C200.6,584.6 200.1,583.7 204.0,587.5 C207.9,591.3 207.3,591.4 211.2,595.8 C215.0,600.3 214.6,599.9 218.5,604.2 C222.4,608.4 221.8,607.9 225.7,611.7 C229.5,615.4 229.1,614.9 233.0,618.3 C236.9,621.8 238.0,622.8 240.3,624.7 C242.6,626.5 239.8,626.0 241.7,625.3 C243.6,624.6 244.0,621.7 247.5,622.0 C251.0,622.3 250.9,626.2 254.8,626.3 C258.7,626.5 258.3,623.5 262.2,622.5 C266.0,621.5 265.5,621.6 269.3,622.5 C273.2,623.4 272.8,624.1 276.7,625.8 C280.5,627.6 280.0,626.3 283.8,629.2 C287.7,632.1 287.3,634.0 291.2,636.7 C295.1,639.3 294.6,636.9 298.5,639.2 C302.4,641.5 301.8,642.7 305.7,645.3 C309.5,648.0 309.1,649.5 313.0,649.2 C316.9,648.9 316.3,646.2 320.2,644.2 C324.0,642.2 323.6,644.0 327.5,641.7 C331.4,639.3 331.0,636.9 334.8,635.3 C338.7,633.8 338.1,636.8 342.0,635.8 C345.9,634.9 347.0,632.9 349.3,631.7 C351.7,630.4 350.4,631.3 350.8,631.2" fill="none" stroke="#3a3a3a" stroke-width="1.9" stroke-linejoin="round" stroke-linecap="round"/>
<text x="29.3" y="511.5" font-size="11" fill="#262626" text-anchor="end">550</text>
<text x="29.3" y="537.5" font-size="11" fill="#262626" text-anchor="end">525</text>
<text x="29.3" y="563.4" font-size="11" fill="#262626" text-anchor="end">500</text>
<text x="29.3" y="589.3" font-size="11" fill="#262626" text-anchor="end">475</text>
<text x="29.3" y="615.3" font-size="11" fill="#262626" text-anchor="end">450</text>
<text x="29.3" y="640.5" font-size="11" fill="#262626" text-anchor="end">425</text>
<text x="29.3" y="666.5" font-size="11" fill="#262626" text-anchor="end">400</text>
<text x="29.3" y="692.5" font-size="11" fill="#262626" text-anchor="end">375</text>
<text x="44.0" y="708.3" font-size="11.5" fill="#262626" text-anchor="middle">1</text>
<text x="65.825" y="708.3" font-size="11.5" fill="#262626" text-anchor="middle">4</text>
<text x="87.65" y="708.3" font-size="11.5" fill="#262626" text-anchor="middle">7</text>
<text x="109.47500000000001" y="708.3" font-size="11.5" fill="#262626" text-anchor="middle">10</text>
<text x="131.3" y="708.3" font-size="11.5" fill="#262626" text-anchor="middle">13</text>
<text x="153.125" y="708.3" font-size="11.5" fill="#262626" text-anchor="middle">16</text>
<text x="174.95000000000002" y="708.3" font-size="11.5" fill="#262626" text-anchor="middle">19</text>
<text x="196.775" y="708.3" font-size="11.5" fill="#262626" text-anchor="middle">22</text>
<text x="218.60000000000002" y="708.3" font-size="11.5" fill="#262626" text-anchor="middle">25</text>
<text x="240.425" y="708.3" font-size="11.5" fill="#262626" text-anchor="middle">28</text>
<text x="262.25" y="708.3" font-size="11.5" fill="#262626" text-anchor="middle">31</text>
<text x="284.07500000000005" y="708.3" font-size="11.5" fill="#262626" text-anchor="middle">34</text>
<text x="305.90000000000003" y="708.3" font-size="11.5" fill="#262626" text-anchor="middle">37</text>
<text x="327.725" y="708.3" font-size="11.5" fill="#262626" text-anchor="middle">40</text>
<text x="349.55" y="708.3" font-size="11.5" fill="#262626" text-anchor="middle">43</text>
<text x="371.375" y="708.3" font-size="11.5" fill="#262626" text-anchor="middle">46</text>
<text x="393.20000000000005" y="708.3" font-size="11.5" fill="#262626" text-anchor="middle">49</text>
<text x="415.02500000000003" y="708.3" font-size="11.5" fill="#262626" text-anchor="middle">52</text>
<text x="10.5" y="716" font-size="10.5" fill="#111" textLength="149" lengthAdjust="spacingAndGlyphs">Source: Bloomberg, Saxo Bank</text>
<text x="10.5" y="495.3" font-size="10.5" fill="#111" textLength="28.2" lengthAdjust="spacingAndGlyphs">M bbl</text>
<text x="129" y="493.4" font-size="12.5" fill="#111" textLength="163.5" lengthAdjust="spacingAndGlyphs">Crude Oil Total Inventories</text>
<rect x="95.2" y="643.7" width="109.3" height="42.1" fill="#fff" stroke="#404040" stroke-width="1"/>
<rect x="111" y="647" width="26" height="7" fill="#bccdfb"/>
<line x1="109.5" y1="664.7" x2="137.5" y2="664.7" stroke="#e0480e" stroke-width="2.8"/>
<line x1="109.5" y1="677.8" x2="137.5" y2="677.8" stroke="#3a3a3a" stroke-width="1.9"/>
<text x="139.3" y="654.2" font-size="11" fill="#262626" textLength="50.4" lengthAdjust="spacingAndGlyphs">5-yr range</text>
<text x="139.3" y="667.7" font-size="11" fill="#262626" textLength="35" lengthAdjust="spacingAndGlyphs">5-yr av.</text>
<text x="139.3" y="681.2" font-size="11" fill="#262626" textLength="21.7" lengthAdjust="spacingAndGlyphs">2021</text>
<g stroke="#d9d9d9" stroke-width="1" fill="none">
<line x1="457" y1="518.5" x2="855.2" y2="518.5"/>
<line x1="457" y1="552.5" x2="855.2" y2="552.5"/>
<line x1="457" y1="586.4" x2="855.2" y2="586.4"/>
<line x1="457" y1="620.4" x2="855.2" y2="620.4"/>
<line x1="457" y1="654.4" x2="855.2" y2="654.4"/>
<line x1="457" y1="687.4" x2="855.2" y2="687.4"/>
</g>
<path d="M461.0,529.2 L468.8,533.3 L476.5,534.2 L484.3,538.0 L492.2,534.2 L500.0,536.2 L507.7,536.2 L515.5,535.0 L523.3,531.3 L531.2,529.2 L538.8,525.3 L546.7,526.3 L554.5,521.3 L562.3,520.3 L570.0,523.3 L577.8,527.5 L585.7,530.3 L593.3,530.8 L601.7,526.3 L610.0,524.2 L618.3,526.7 L626.7,530.0 L633.3,533.0 L640.0,530.8 L647.5,535.0 L655.0,538.0 L663.3,538.3 L671.7,539.2 L680.0,538.0 L686.7,535.5 L694.2,538.0 L702.5,534.5 L710.0,537.5 L717.5,536.3 L723.7,539.2 L731.7,541.3 L739.7,542.5 L755.5,541.7 L763.5,539.7 L771.5,539.2 L779.3,540.0 L787.3,539.2 L795.3,537.0 L803.3,542.5 L811.2,547.5 L819.2,552.5 L827.2,547.5 L835.2,534.2 L843.0,530.3 L851.0,531.2 L851.0,628.0 L842.7,620.3 L834.3,623.0 L826.8,626.7 L819.3,631.3 L811.8,635.3 L803.5,635.8 L795.2,640.0 L787.7,647.5 L781.0,654.7 L772.7,659.2 L765.2,664.2 L756.8,671.7 L749.3,678.3 L741.8,680.0 L733.5,676.3 L725.2,672.0 L718.3,673.3 L710.0,674.2 L702.5,677.0 L694.2,682.0 L686.7,680.5 L680.0,677.0 L671.7,672.5 L663.3,668.7 L655.0,661.3 L647.5,654.2 L640.0,645.8 L632.5,641.3 L625.0,638.8 L616.7,635.8 L608.3,633.3 L600.8,630.0 L593.3,630.0 L585.7,634.2 L577.8,635.8 L570.0,637.5 L562.3,634.2 L554.5,637.5 L546.7,648.3 L538.8,654.2 L531.2,659.2 L523.3,660.8 L515.5,659.2 L507.7,655.0 L500.0,645.8 L492.2,633.3 L484.3,635.3 L476.5,638.0 L468.8,635.0 L461.0,635.3Z" fill="#bccdfb"/>
<path d="M461.0,582.5 C461.3,582.7 468.2,586.1 468.8,586.3 C469.5,586.6 475.9,589.3 476.5,589.5 C477.1,589.7 483.7,592.5 484.3,592.5 C485.0,592.5 491.5,589.2 492.2,589.2 C492.8,589.1 499.4,591.2 500.0,591.3 C500.6,591.5 507.0,592.5 507.7,592.5 C508.3,592.5 514.9,591.4 515.5,591.3 C516.1,591.2 522.7,590.1 523.3,590.0 C524.0,589.9 530.5,588.1 531.2,588.0 C531.8,587.9 538.2,586.4 538.8,586.3 C539.5,586.2 546.0,585.6 546.7,585.3 C547.3,585.0 553.9,579.6 554.5,579.2 C555.1,578.8 561.7,575.2 562.3,575.0 C563.0,574.8 569.4,574.4 570.0,574.2 C570.6,574.0 577.2,570.6 577.8,570.3 C578.5,570.0 585.0,567.2 585.7,567.0 C586.3,566.8 592.7,565.4 593.3,565.3 C593.9,565.3 600.2,565.2 600.8,565.3 C601.4,565.5 607.7,568.9 608.3,569.2 C608.9,569.5 615.2,572.3 615.8,572.5 C616.5,572.7 623.5,574.5 624.2,574.7 C624.8,574.8 631.9,576.5 632.5,576.7 C633.1,576.8 639.4,578.9 640.0,579.2 C640.6,579.5 646.9,583.9 647.5,584.2 C648.1,584.5 654.4,586.2 655.0,586.3 C655.6,586.5 662.7,588.2 663.3,588.3 C664.0,588.5 671.0,589.4 671.7,589.5 C672.3,589.6 679.4,590.5 680.0,590.5 C680.6,590.5 686.1,590.4 686.7,590.5 C687.2,590.6 693.5,592.5 694.2,592.5 C694.8,592.5 701.9,590.8 702.5,590.8 C703.1,590.9 709.3,593.2 710.0,593.3 C710.7,593.4 720.1,593.3 721.0,593.3 C721.9,593.3 731.8,593.2 732.7,593.3 C733.5,593.4 741.2,595.8 741.8,595.8 C742.4,595.8 747.1,593.6 747.7,593.3 C748.2,593.1 754.9,590.0 755.5,589.7 C756.1,589.4 762.9,586.1 763.5,585.8 C764.1,585.5 770.9,582.7 771.5,582.5 C772.1,582.3 778.7,580.6 779.3,580.5 C780.0,580.4 786.7,579.9 787.3,579.7 C788.0,579.5 794.7,575.6 795.3,575.5 C796.0,575.4 802.7,576.9 803.3,577.0 C804.0,577.1 810.5,578.1 811.2,578.3 C811.8,578.5 818.5,581.6 819.2,581.7 C819.8,581.7 826.5,580.3 827.2,580.3 C827.8,580.4 834.5,582.5 835.2,582.5 C835.8,582.5 842.4,580.3 843.0,580.3 C843.6,580.4 850.7,583.5 851.0,583.7" fill="none" stroke="#e0480e" stroke-width="2.8" stroke-linejoin="round" stroke-linecap="round"/>
<path d="M461.0,555.0 C462.1,555.7 462.9,555.7 465.0,557.5 C467.1,559.3 466.8,557.9 469.0,561.7 C471.2,565.4 471.2,567.2 473.3,571.7 C475.4,576.1 473.8,574.3 476.8,578.3 C479.9,582.3 480.6,583.3 484.8,586.7 C489.1,590.0 489.0,589.5 492.8,590.8 C496.7,592.2 496.6,590.3 499.2,591.7 C501.7,593.0 500.9,593.3 502.5,595.8 C504.1,598.4 504.0,599.3 505.3,601.3 C506.7,603.3 506.3,603.3 507.5,603.3 C508.7,603.3 508.5,603.2 509.7,601.3 C510.9,599.5 510.7,598.5 512.0,596.3 C513.3,594.2 513.2,594.3 514.7,593.3 C516.1,592.4 514.8,593.1 517.5,592.7 C520.2,592.2 521.3,592.3 524.7,591.7 C528.0,591.0 527.2,590.6 530.0,590.3 C532.8,590.1 532.1,589.6 535.0,590.8 C537.9,592.1 537.7,592.8 540.8,595.0 C543.9,597.2 543.1,598.9 546.7,599.2 C550.2,599.5 549.9,596.3 554.2,596.2 C558.4,596.0 558.5,598.4 562.5,598.7 C566.5,598.9 565.2,596.1 569.2,597.0 C573.2,597.9 572.8,601.4 577.5,602.0 C582.2,602.6 582.7,600.0 586.7,599.2 C590.7,598.3 588.7,598.6 592.5,598.8 C596.3,599.1 596.6,599.6 600.8,600.0 C605.1,600.4 604.1,599.4 608.3,600.3 C612.6,601.3 612.4,603.5 616.7,603.7 C620.9,603.8 620.2,601.7 624.2,600.8 C628.2,600.0 627.4,598.7 631.7,600.5 C635.9,602.3 635.6,603.9 640.0,607.5 C644.4,611.1 644.1,611.1 648.3,614.2 C652.6,617.3 652.1,617.4 655.8,619.2 C659.6,620.9 659.2,619.5 662.5,620.8 C665.8,622.2 665.9,622.4 668.3,624.2 C670.8,625.9 668.6,625.3 671.7,627.5 C674.8,629.7 676.0,630.4 680.0,632.5 C684.0,634.6 682.9,634.1 686.7,635.3 C690.4,636.5 689.9,636.2 694.2,637.0 C698.4,637.8 698.5,637.2 702.5,638.3 C706.5,639.5 705.8,640.4 709.2,641.3 C712.5,642.3 711.7,642.3 715.0,642.0 C718.3,641.7 718.7,641.3 721.7,640.3 C724.6,639.4 723.7,640.0 726.0,638.3 C728.3,636.7 728.0,635.9 730.2,634.2 C732.3,632.4 732.0,632.0 734.0,631.7 C736.0,631.4 734.9,631.3 737.7,633.0 C740.4,634.7 741.0,635.9 744.3,638.0 C747.7,640.1 747.1,640.2 750.2,640.8 C753.3,641.5 753.1,641.4 756.0,640.3 C758.9,639.2 758.7,638.1 761.0,636.7 C763.3,635.2 762.7,634.6 764.7,635.0 C766.7,635.4 765.9,635.6 768.5,638.0 C771.1,640.4 771.4,641.2 774.3,644.2 C777.2,647.1 776.7,645.6 779.3,649.2 C782.0,652.7 782.0,653.7 784.3,657.5 C786.6,661.3 787.0,661.8 788.0,663.3" fill="none" stroke="#0a1650" stroke-width="1.9" stroke-linejoin="round" stroke-linecap="round"/>
<text x="434.3" y="521.7" font-size="11" fill="#262626">70</text>
<text x="434.3" y="555.7" font-size="11" fill="#262626">60</text>
<text x="434.3" y="589.6" font-size="11" fill="#262626">50</text>
<text x="434.3" y="623.6" font-size="11" fill="#262626">40</text>
<text x="434.3" y="657.6" font-size="11" fill="#262626">30</text>
<text x="434.3" y="690.6" font-size="11" fill="#262626">20</text>
<text x="461.0" y="706.3" font-size="11.5" fill="#262626" text-anchor="middle">1</text>
<text x="484.37" y="706.3" font-size="11.5" fill="#262626" text-anchor="middle">4</text>
<text x="507.74" y="706.3" font-size="11.5" fill="#262626" text-anchor="middle">7</text>
<text x="531.11" y="706.3" font-size="11.5" fill="#262626" text-anchor="middle">10</text>
<text x="554.48" y="706.3" font-size="11.5" fill="#262626" text-anchor="middle">13</text>
<text x="577.85" y="706.3" font-size="11.5" fill="#262626" text-anchor="middle">16</text>
<text x="601.22" y="706.3" font-size="11.5" fill="#262626" text-anchor="middle">19</text>
<text x="624.59" y="706.3" font-size="11.5" fill="#262626" text-anchor="middle">22</text>
<text x="647.96" y="706.3" font-size="11.5" fill="#262626" text-anchor="middle">25</text>
<text x="671.33" y="706.3" font-size="11.5" fill="#262626" text-anchor="middle">28</text>
<text x="694.7" y="706.3" font-size="11.5" fill="#262626" text-anchor="middle">31</text>
<text x="718.0699999999999" y="706.3" font-size="11.5" fill="#262626" text-anchor="middle">34</text>
<text x="741.44" y="706.3" font-size="11.5" fill="#262626" text-anchor="middle">37</text>
<text x="764.81" y="706.3" font-size="11.5" fill="#262626" text-anchor="middle">40</text>
<text x="788.1800000000001" y="706.3" font-size="11.5" fill="#262626" text-anchor="middle">43</text>
<text x="811.55" y="706.3" font-size="11.5" fill="#262626" text-anchor="middle">46</text>
<text x="834.9200000000001" y="706.3" font-size="11.5" fill="#262626" text-anchor="middle">49</text>
<text x="442.5" y="718.5" font-size="10.5" fill="#111" textLength="149" lengthAdjust="spacingAndGlyphs" clip-path="url(#cC)">Source: Bloomberg, Saxo Bank</text>
<text x="442.5" y="493" font-size="10.5" fill="#111" textLength="28" lengthAdjust="spacingAndGlyphs">M bbl</text>
<text x="551" y="494.2" font-size="12.5" fill="#111" textLength="183" lengthAdjust="spacingAndGlyphs">Cushing Crude&#160; Oil Inventories</text>
<rect x="653.3" y="542.8" width="116" height="39.2" fill="#fff" stroke="#bfbfbf" stroke-width="1"/>
<rect x="672" y="545.2" width="26.8" height="7.3" fill="#bccdfb"/>
<line x1="672" y1="562.5" x2="698.5" y2="562.5" stroke="#e0480e" stroke-width="2.8"/>
<line x1="672" y1="576.2" x2="698.5" y2="576.2" stroke="#0a1650" stroke-width="1.9"/>
<text x="701.7" y="552.4" font-size="11" fill="#262626" textLength="50" lengthAdjust="spacingAndGlyphs">5-yr range</text>
<text x="701.7" y="565.9" font-size="11" fill="#262626" textLength="35" lengthAdjust="spacingAndGlyphs">5-yr av.</text>
<text x="701.7" y="579.4" font-size="11" fill="#262626" textLength="21.7" lengthAdjust="spacingAndGlyphs">2021</text>
</svg>
</body></html>
